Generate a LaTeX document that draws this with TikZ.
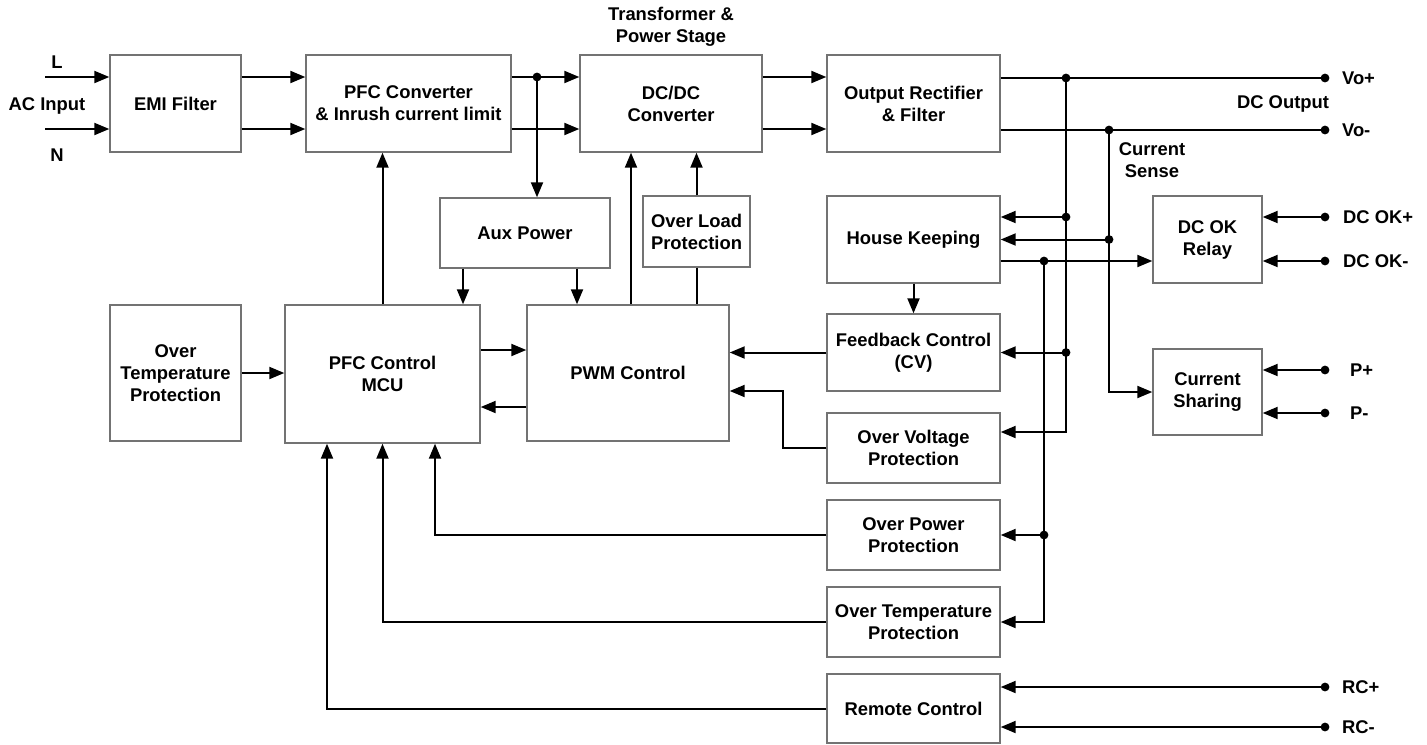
\documentclass[tikz,border=0pt]{standalone}
\usepackage{fontspec}
\setmainfont{Liberation Sans}
\usetikzlibrary{arrows.meta}

\begin{document}
\begin{tikzpicture}[x=0.5pt, y=-0.5pt,
    every node/.style={font=\fontsize{9.2}{11}\selectfont\bfseries},
    box/.style={draw=black!55, line width=0.7pt, align=center, inner sep=1pt},
    wire/.style={line width=1pt},
    arr/.style={wire, -{Stealth[length=7.5pt, width=6pt, inset=0pt]}}]
\useasboundingbox (0,0) rectangle (1427,744);
% power path
\node[box, minimum width=65.5pt,  minimum height=48.5pt] (emi)  at (175.5,103.5) {EMI Filter};
\node[box, minimum width=102.5pt, minimum height=48.5pt] (pfc)  at (408.5,103.5) {PFC Converter\\\& Inrush current limit};
\node[box, minimum width=91pt,    minimum height=48.5pt] (dcdc) at (671,103.5)   {DC/DC\\Converter};
\node[box, minimum width=86.5pt,  minimum height=48.5pt] (orf)  at (913.5,103.5) {Output Rectifier\\\& Filter};
% control blocks
\node[box, minimum width=85pt,    minimum height=35pt]   (aux)  at (525,233)     {Aux Power};
\node[box, minimum width=53.5pt,  minimum height=35.5pt] (olp)  at (696.5,231.5) {Over Load\\Protection};
\node[box, minimum width=86.5pt,  minimum height=43.5pt] (hk)   at (913.5,239.5) {House Keeping};
\node[box, minimum width=54.5pt,  minimum height=43.5pt] (dcok) at (1207.5,239.5) {DC OK\\Relay};
\node[box, minimum width=86.5pt,  minimum height=38.5pt] (fb)   at (913.5,352.5) {Feedback Control\\(CV)};
\node[box, minimum width=54.5pt,  minimum height=43pt]   (cs)   at (1207.5,392)  {Current\\Sharing};
\node[box, minimum width=65.5pt,  minimum height=68pt]   (otpa) at (175.5,373)   {Over\\Temperature\\Protection};
\node[box, minimum width=97.5pt,  minimum height=69pt]   (mcu)  at (382.5,374)   {PFC Control\\MCU};
\node[box, minimum width=101pt,   minimum height=68pt]   (pwm)  at (628,373)     {PWM Control};
\node[box, minimum width=86.5pt,  minimum height=35pt]   (ovp)  at (913.5,448)   {Over Voltage\\Protection};
\node[box, minimum width=86.5pt,  minimum height=35pt]   (opp)  at (913.5,535)   {Over Power\\Protection};
\node[box, minimum width=86.5pt,  minimum height=35pt]   (otpb) at (913.5,622)   {Over Temperature\\Protection};
\node[box, minimum width=86.5pt,  minimum height=34.5pt] (rc)   at (913.5,708.5) {Remote Control};
% labels
\node (lblL)  at (57,62)   {L};
\node (lblN)  at (57,155)  {N};
\node (acin)  at (47,106)  {AC Input};
\node[align=center] (tps) at (671,27) {Transformer \&\\Power Stage};
\node (dcout) at (1283,104) {DC Output};
\node[align=center] (csense) at (1152,160) {Current\\Sense};
% terminals
\coordinate (tL)  at (45,77);
\coordinate (tN)  at (45,129);
\coordinate (vop) at (1325,78);
\coordinate (von) at (1325,130);
\coordinate (okp) at (1325,217);
\coordinate (okn) at (1325,261);
\coordinate (pp)  at (1325,370);
\coordinate (pn)  at (1325,413);
\coordinate (rcp) at (1325,687);
\coordinate (rcn) at (1325,727);
\node[anchor=west] (lvop) at (1335,78)  {Vo+};
\node[anchor=west] (lvon) at (1335,130) {Vo-};
\node[anchor=west] (lokp) at (1336,217) {DC OK+};
\node[anchor=west] (lokn) at (1336,261) {DC OK-};
\node[anchor=west] (lpp)  at (1343,370) {P+};
\node[anchor=west] (lpn)  at (1343,413) {P-};
\node[anchor=west] (lrcp) at (1335,687) {RC+};
\node[anchor=west] (lrcn) at (1335,727) {RC-};
% junctions
\coordinate (jA) at (537,77);
\coordinate (jV) at (1066,78);
\coordinate (jC) at (1109,130);
\coordinate (jH) at (1044,261);

% main power flow
\draw[arr] (tL) -- (tL -| emi.west);
\draw[arr] (tN) -- (tN -| emi.west);
\draw[arr] (emi.east |- tL) -- (pfc.west |- tL);
\draw[arr] (emi.east |- tN) -- (pfc.west |- tN);
\draw[arr] (pfc.east |- tL) -- (dcdc.west |- tL);
\draw[arr] (pfc.east |- tN) -- (dcdc.west |- tN);
\draw[arr] (dcdc.east |- tL) -- (orf.west |- tL);
\draw[arr] (dcdc.east |- tN) -- (orf.west |- tN);
\draw[arr] (jA) -- (jA |- aux.north);
\draw[wire] (orf.east |- vop) -- (vop);
\draw[wire] (orf.east |- von) -- (von);

% sense lines
\draw[arr] (jV) |- ([yshift=8pt]ovp.east);
\draw[arr] (jV |- okp) -- (okp -| hk.east);
\draw[arr] (jV |- fb.east) -- (fb.east);
\draw[arr] (jC) |- (cs.west);
\draw[arr] (jC |- hk.east) -- (hk.east);
\draw[arr] (okn -| hk.east) -- (okn -| dcok.west);
\draw[arr] (jH) |- (otpb.east);
\draw[arr] (jH |- opp.east) -- (opp.east);

% outside signals
\draw[arr] (okp) -- (okp -| dcok.east);
\draw[arr] (okn) -- (okn -| dcok.east);
\draw[arr] (pp) -- (pp -| cs.east);
\draw[arr] (pn) -- (pn -| cs.east);
\draw[arr] (rcp) -- (rcp -| rc.east);
\draw[arr] (rcn) -- (rcn -| rc.east);

% control loops
\draw[arr] (hk.south) -- (fb.north);
\draw[arr] (fb.west) -- (fb.west -| pwm.east);
\draw[arr] (ovp.west) -- ++(-43,0) |- ([yshift=-9pt]pwm.east);
\draw[wire] (olp.south) -- (olp.south |- pwm.north);
\draw[arr] (olp.north) -- (olp.north |- dcdc.south);
\draw[arr] ([xshift=1.5pt]pwm.north) -- ([xshift=1.5pt]pwm.north |- dcdc.south);
\draw[arr] (mcu.north) -- (mcu.north |- pfc.south);
\draw[arr] ([xshift=-31pt]aux.south) -- ([xshift=-31pt]aux.south |- mcu.north);
\draw[arr] ([xshift=26pt]aux.south) -- ([xshift=26pt]aux.south |- pwm.north);
\draw[arr] ([yshift=12pt]mcu.east) -- ([yshift=12pt]mcu.east -| pwm.west);
\draw[arr] ([yshift=-17pt]pwm.west) -- ([yshift=-17pt]pwm.west -| mcu.east);
\draw[arr] (otpa.east) -- (otpa.east -| mcu.west);
\draw[arr] (opp.west) -| ([xshift=26.25pt]mcu.south);
\draw[arr] (otpb.west) -| (mcu.south);
\draw[arr] (rc.west) -| ([xshift=-27.75pt]mcu.south);

% dots
\foreach \p in {jA, jV, jC, jH, vop, von, okp, okn, pp, pn, rcp, rcn,
    jV |- okp, jV |- fb.east, jC |- hk.east, jH |- opp.east}
  \fill (\p) circle (2.2pt);
\end{tikzpicture}
\end{document}
